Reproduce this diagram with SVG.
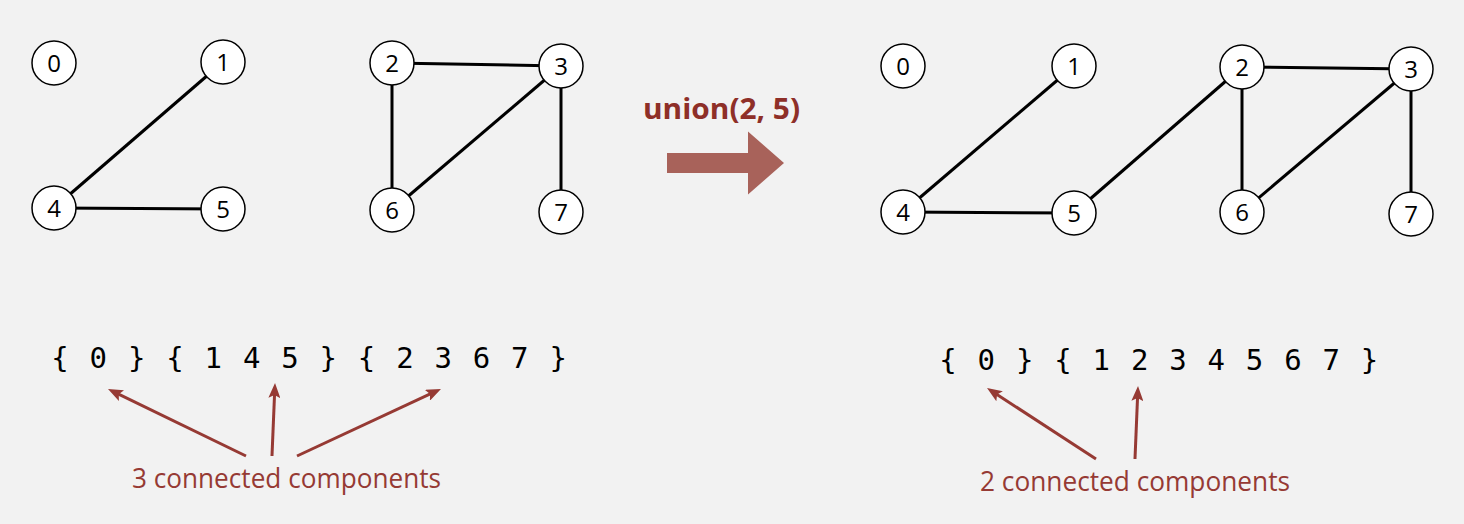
<svg xmlns="http://www.w3.org/2000/svg" width="1464" height="524" viewBox="0 0 1464 524">
<style>
.bg{fill:#F2F2F2}
.node circle{fill:#FFFFFF;stroke:#000000;stroke-width:1.5}
.node text{font-family:"Open Sans","Liberation Sans",sans-serif;font-size:24px;fill:#000000;text-anchor:middle}
.edge{stroke:#000000;stroke-width:3;fill:none}
.set{font-family:"DejaVu Sans Mono","Liberation Mono",monospace;font-size:29px;fill:#000000;letter-spacing:1.7px}
.note{font-family:"Open Sans","Liberation Sans",sans-serif;font-size:27px;fill:#963A34}
.ptr{stroke:#963A34;stroke-width:3;fill:none}
.op{font-family:"Open Sans","Liberation Sans",sans-serif;font-size:28px;font-weight:bold;fill:#8E2F28}
</style>
<defs>
<marker id="ah" markerUnits="userSpaceOnUse" markerWidth="16" markerHeight="12" viewBox="0 0 16 12" refX="5" refY="6" orient="auto">
<path d="M0,0 L15,6 L0,12 L3,6 z" fill="#963A34"/>
</marker>
</defs>
<rect class="bg" x="0" y="0" width="1464" height="524"/>

<g id="connectors">
<line class="edge" x1="223" y1="62" x2="54" y2="208"/>
<line class="edge" x1="54" y1="208" x2="223" y2="209"/>
<line class="edge" x1="392" y1="63" x2="561" y2="66"/>
<line class="edge" x1="392" y1="63" x2="392" y2="210"/>
<line class="edge" x1="561" y1="66" x2="392" y2="210"/>
<line class="edge" x1="561" y1="66" x2="561" y2="212"/>

<line class="edge" x1="1074" y1="66" x2="903" y2="212"/>
<line class="edge" x1="903" y1="212" x2="1074" y2="213"/>
<line class="edge" x1="1074" y1="213" x2="1242" y2="67"/>
<line class="edge" x1="1242" y1="67" x2="1411" y2="69"/>
<line class="edge" x1="1242" y1="67" x2="1242" y2="212"/>
<line class="edge" x1="1411" y1="69" x2="1242" y2="212"/>
<line class="edge" x1="1411" y1="69" x2="1411" y2="214"/>

<line class="ptr" x1="246" y1="456" x2="117" y2="393.4" marker-end="url(#ah)"/>
<line class="ptr" x1="272" y1="456" x2="274.6" y2="393" marker-end="url(#ah)"/>
<line class="ptr" x1="297" y1="456" x2="431.9" y2="393.2" marker-end="url(#ah)"/>
<line class="ptr" x1="1096" y1="459" x2="995.4" y2="393.5" marker-end="url(#ah)"/>
<line class="ptr" x1="1135" y1="459" x2="1137.6" y2="396" marker-end="url(#ah)"/>
</g>

<g id="L0" class="node"><circle cx="54" cy="63" r="22"/><text x="54" y="71.5">0</text></g>
<g id="L1" class="node"><circle cx="223" cy="62" r="22"/><text x="223" y="70.5">1</text></g>
<g id="L4" class="node"><circle cx="54" cy="208" r="22"/><text x="54" y="216.5">4</text></g>
<g id="L5" class="node"><circle cx="223" cy="209" r="22"/><text x="223" y="217.5">5</text></g>
<g id="L2" class="node"><circle cx="392" cy="63" r="22"/><text x="392" y="71.5">2</text></g>
<g id="L3" class="node"><circle cx="561" cy="66" r="22"/><text x="561" y="74.5">3</text></g>
<g id="L6" class="node"><circle cx="392" cy="210" r="22"/><text x="392" y="218.5">6</text></g>
<g id="L7" class="node"><circle cx="561" cy="212" r="22"/><text x="561" y="220.5">7</text></g>

<g id="R0" class="node"><circle cx="903" cy="66" r="22"/><text x="903" y="74.5">0</text></g>
<g id="R1" class="node"><circle cx="1074" cy="66" r="22"/><text x="1074" y="74.5">1</text></g>
<g id="R2" class="node"><circle cx="1242" cy="67" r="22"/><text x="1242" y="75.5">2</text></g>
<g id="R3" class="node"><circle cx="1411" cy="69" r="22"/><text x="1411" y="77.5">3</text></g>
<g id="R4" class="node"><circle cx="903" cy="212" r="22"/><text x="903" y="220.5">4</text></g>
<g id="R5" class="node"><circle cx="1074" cy="213" r="22"/><text x="1074" y="221.5">5</text></g>
<g id="R6" class="node"><circle cx="1242" cy="212" r="22"/><text x="1242" y="220.5">6</text></g>
<g id="R7" class="node"><circle cx="1411" cy="214" r="22"/><text x="1411" y="222.5">7</text></g>

<g id="op">
<text class="op" x="643" y="119" textLength="157" lengthAdjust="spacingAndGlyphs">union(2, 5)</text>
<polygon points="667,153 748,153 748,131.5 784,163 748,194.5 748,173 667,173" fill="#A8625A"/>
</g>

<g id="sets">
<text class="set" x="51.3" y="368">{ 0 } { 1 4 5 } { 2 3 6 7 }</text>
<text class="set" x="939.3" y="370">{ 0 } { 1 2 3 4 5 6 7 }</text>
</g>

<g id="notes">
<text class="note" x="132" y="488" textLength="309" lengthAdjust="spacingAndGlyphs">3 connected components</text>
<text class="note" x="980" y="491" textLength="310" lengthAdjust="spacingAndGlyphs">2 connected components</text>
</g>
</svg>
